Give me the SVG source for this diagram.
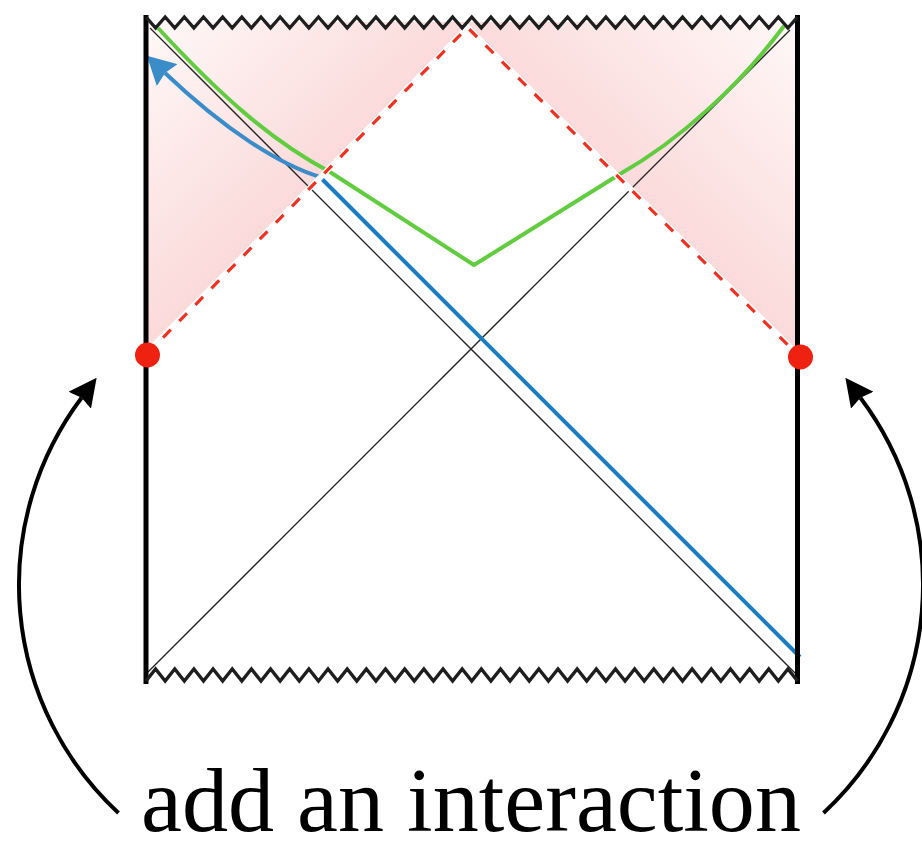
<svg xmlns="http://www.w3.org/2000/svg" width="922" height="843" viewBox="0 0 922 843">
<style>
.zig{fill:none;stroke:#1e1e1e;stroke-width:3.4;stroke-linejoin:miter}
.edge{stroke:#000;stroke-width:5;fill:none}
.thin{stroke:#222;stroke-width:1.3;fill:none}
.dashw{stroke:#fff;stroke-width:6;fill:none}
.dash{stroke:#f03020;stroke-width:3.2;fill:none;stroke-dasharray:11 12}
.dot{fill:#ef2212}
.green{stroke:#62cc40;stroke-width:4;fill:none;stroke-linejoin:round}
.blue{stroke:#1a7cc1;stroke-width:4;fill:none}
.bluec{stroke:#3a8dc8;stroke-width:4;fill:none}
.arc{stroke:#000;stroke-width:4;fill:none}
.label{font-family:"Liberation Serif","Times New Roman",serif;font-size:91px;fill:#000}
</style>
<defs>
<linearGradient id="gl" gradientUnits="userSpaceOnUse" x1="147" y1="22" x2="307" y2="187">
<stop offset="0" stop-color="#fff8f8"/><stop offset="1" stop-color="#fbdada"/>
</linearGradient>
<linearGradient id="gr" gradientUnits="userSpaceOnUse" x1="797" y1="22" x2="633" y2="192">
<stop offset="0" stop-color="#fff8f8"/><stop offset="1" stop-color="#fbdada"/>
</linearGradient>
<marker id="ab" markerUnits="userSpaceOnUse" viewBox="0 0 28 28" markerWidth="28" markerHeight="28" refX="3" refY="14" orient="auto">
<path d="M0,0 L28,14 L0,28 L3,14 Z" fill="#000"/>
</marker>
<marker id="abl" markerUnits="userSpaceOnUse" viewBox="0 0 28 30" markerWidth="28" markerHeight="30" refX="3" refY="15" orient="auto">
<path d="M0,0 L28,15 L0,30 L3,15 Z" fill="#3a8dc8"/>
</marker>
</defs>

<g id="shading">
<polygon points="146,22 467.5,22 467.5,27.5 146,349" fill="url(#gl)"/>
<polygon points="467.5,22 797.5,22 797.5,357 467.5,27.5" fill="url(#gr)"/>
</g>

<g id="horizons">
<line class="thin" x1="150" y1="28" x2="797" y2="675"/>
<line class="thin" x1="148" y1="672" x2="790" y2="30"/>
</g>

<g id="curves">
<path class="green" d="M158,28 C220,95 270,140 330,172 L474,265 L620,174 C680,140 740,85 784,26"/>
<path class="blue" d="M800,657 L320,177"/>
<path class="bluec" d="M320,177 C280,165 225,130 165,73" marker-end="url(#abl)"/>
</g>

<g id="lightcone">
<path class="dashw" d="M147,354 L467.5,27.5 L800,357"/>
<path class="dash" d="M147,354 L467.5,27.5 L800,357"/>
</g>

<g id="frame">
<line class="edge" x1="146" y1="15" x2="146" y2="684"/>
<line class="edge" x1="797.5" y1="15" x2="797.5" y2="684"/>
<path class="zig" d="M146,17 l
9.581,11 9.581,-11 9.581,11 9.581,-11
9.581,11 9.581,-11 9.581,11 9.581,-11
9.581,11 9.581,-11 9.581,11 9.581,-11
9.581,11 9.581,-11 9.581,11 9.581,-11
9.581,11 9.581,-11 9.581,11 9.581,-11
9.581,11 9.581,-11 9.581,11 9.581,-11
9.581,11 9.581,-11 9.581,11 9.581,-11
9.581,11 9.581,-11 9.581,11 9.581,-11
9.581,11 9.581,-11 9.581,11 9.581,-11
9.581,11 9.581,-11 9.581,11 9.581,-11
9.581,11 9.581,-11 9.581,11 9.581,-11
9.581,11 9.581,-11 9.581,11 9.581,-11
9.581,11 9.581,-11 9.581,11 9.581,-11
9.581,11 9.581,-11 9.581,11 9.581,-11
9.581,11 9.581,-11 9.581,11 9.581,-11
9.581,11 9.581,-11 9.581,11 9.581,-11
9.581,11 9.581,-11 9.581,11 9.581,-11"/>
<path class="zig" d="M146,681 l
9.581,-12 9.581,12 9.581,-12 9.581,12
9.581,-12 9.581,12 9.581,-12 9.581,12
9.581,-12 9.581,12 9.581,-12 9.581,12
9.581,-12 9.581,12 9.581,-12 9.581,12
9.581,-12 9.581,12 9.581,-12 9.581,12
9.581,-12 9.581,12 9.581,-12 9.581,12
9.581,-12 9.581,12 9.581,-12 9.581,12
9.581,-12 9.581,12 9.581,-12 9.581,12
9.581,-12 9.581,12 9.581,-12 9.581,12
9.581,-12 9.581,12 9.581,-12 9.581,12
9.581,-12 9.581,12 9.581,-12 9.581,12
9.581,-12 9.581,12 9.581,-12 9.581,12
9.581,-12 9.581,12 9.581,-12 9.581,12
9.581,-12 9.581,12 9.581,-12 9.581,12
9.581,-12 9.581,12 9.581,-12 9.581,12
9.581,-12 9.581,12 9.581,-12 9.581,12
9.581,-12 9.581,12 9.581,-12 9.581,12"/>
</g>

<g id="dots">
<circle class="dot" cx="147.5" cy="355" r="12.5"/>
<circle class="dot" cx="800.5" cy="357" r="12.5"/>
</g>

<g id="connectors">
<path class="arc" d="M118.5,813 A311,311 0 0 1 81.6,397.8" marker-end="url(#ab)"/>
<path class="arc" d="M823.5,813 A311,311 0 0 0 860.4,397.8" marker-end="url(#ab)"/>
</g>

<g id="caption">
<text class="label" x="141" y="831" textLength="660" lengthAdjust="spacingAndGlyphs">add an interaction</text>
</g>
</svg>
